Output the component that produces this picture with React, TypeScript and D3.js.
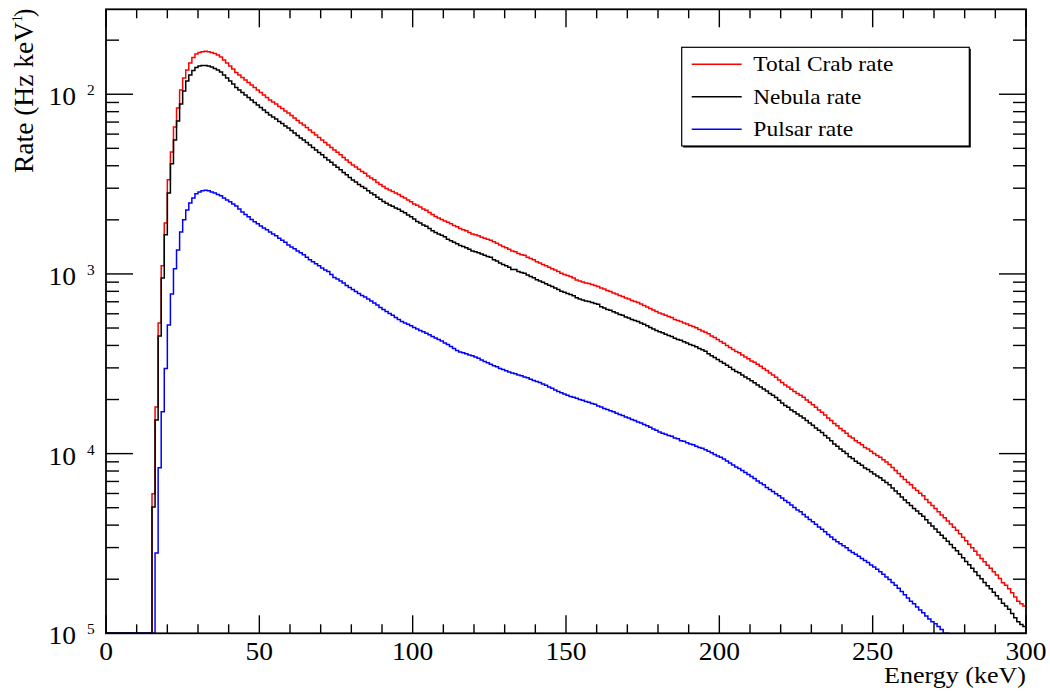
import React from 'react';
import * as d3 from 'd3';

// 1 keV bins, 0-300 keV
const histMin = 0;
const histMax = 300;
const binWidth = 1;

// Hz/keV per bin (bins below threshold are empty)
const totalRate = [
  0, 0, 0, 0, 0, 0, 0, 0, 0, 0,
  0, 0, 0, 0, 0, 5.97e-5, 1.82e-4, 5.34e-4, 1.11e-3, 1.92e-3,
  3.34e-3, 4.77e-3, 6.58e-3, 8.39e-3, 1.057e-2, 1.232e-2, 1.366e-2, 1.494e-2, 1.602e-2, 1.676e-2,
  1.708e-2, 1.726e-2, 1.735e-2, 1.726e-2, 1.708e-2, 1.687e-2, 1.655e-2, 1.613e-2, 1.552e-2, 1.494e-2,
  1.437e-2, 1.383e-2, 1.322e-2, 1.280e-2, 1.240e-2, 1.201e-2, 1.163e-2, 1.126e-2, 1.091e-2, 1.057e-2,
  1.023e-2, 9.91e-3, 9.60e-3, 9.30e-3, 9.06e-3, 8.83e-3, 8.55e-3, 8.34e-3, 8.07e-3, 7.87e-3,
  7.62e-3, 7.38e-3, 7.15e-3, 6.92e-3, 6.75e-3, 6.53e-3, 6.33e-3, 6.13e-3, 5.94e-3, 5.75e-3,
  5.57e-3, 5.39e-3, 5.22e-3, 5.06e-3, 4.90e-3, 4.75e-3, 4.60e-3, 4.45e-3, 4.31e-3, 4.17e-3,
  4.04e-3, 3.94e-3, 3.82e-3, 3.72e-3, 3.63e-3, 3.51e-3, 3.42e-3, 3.34e-3, 3.23e-3, 3.15e-3,
  3.07e-3, 2.99e-3, 2.93e-3, 2.88e-3, 2.82e-3, 2.77e-3, 2.70e-3, 2.65e-3, 2.58e-3, 2.52e-3,
  2.45e-3, 2.41e-3, 2.36e-3, 2.30e-3, 2.26e-3, 2.20e-3, 2.14e-3, 2.09e-3, 2.05e-3, 2.01e-3,
  1.97e-3, 1.94e-3, 1.90e-3, 1.86e-3, 1.83e-3, 1.79e-3, 1.76e-3, 1.74e-3, 1.70e-3, 1.67e-3,
  1.65e-3, 1.63e-3, 1.60e-3, 1.58e-3, 1.56e-3, 1.54e-3, 1.51e-3, 1.48e-3, 1.45e-3, 1.42e-3,
  1.40e-3, 1.37e-3, 1.34e-3, 1.33e-3, 1.30e-3, 1.28e-3, 1.27e-3, 1.24e-3, 1.22e-3, 1.20e-3,
  1.17e-3, 1.15e-3, 1.13e-3, 1.11e-3, 1.09e-3, 1.07e-3, 1.05e-3, 1.03e-3, 1.01e-3, 9.94e-4,
  9.81e-4, 9.68e-4, 9.50e-4, 9.26e-4, 9.14e-4, 9.03e-4, 8.91e-4, 8.85e-4, 8.74e-4, 8.63e-4,
  8.52e-4, 8.36e-4, 8.25e-4, 8.09e-4, 7.99e-4, 7.84e-4, 7.74e-4, 7.59e-4, 7.50e-4, 7.35e-4,
  7.26e-4, 7.12e-4, 7.03e-4, 6.94e-4, 6.81e-4, 6.68e-4, 6.55e-4, 6.43e-4, 6.30e-4, 6.18e-4,
  6.07e-4, 5.99e-4, 5.88e-4, 5.80e-4, 5.73e-4, 5.58e-4, 5.51e-4, 5.44e-4, 5.34e-4, 5.27e-4,
  5.17e-4, 5.10e-4, 5.01e-4, 4.91e-4, 4.82e-4, 4.73e-4, 4.64e-4, 4.52e-4, 4.43e-4, 4.32e-4,
  4.21e-4, 4.11e-4, 4.00e-4, 3.90e-4, 3.80e-4, 3.70e-4, 3.64e-4, 3.54e-4, 3.45e-4, 3.37e-4,
  3.28e-4, 3.22e-4, 3.14e-4, 3.06e-4, 2.98e-4, 2.90e-4, 2.81e-4, 2.74e-4, 2.66e-4, 2.57e-4,
  2.49e-4, 2.41e-4, 2.35e-4, 2.28e-4, 2.22e-4, 2.16e-4, 2.11e-4, 2.06e-4, 1.99e-4, 1.93e-4,
  1.87e-4, 1.81e-4, 1.75e-4, 1.70e-4, 1.64e-4, 1.58e-4, 1.53e-4, 1.47e-4, 1.43e-4, 1.38e-4,
  1.34e-4, 1.30e-4, 1.25e-4, 1.22e-4, 1.18e-4, 1.15e-4, 1.12e-4, 1.08e-4, 1.06e-4, 1.03e-4,
  1.00e-4, 9.77e-5, 9.53e-5, 9.23e-5, 8.99e-5, 8.71e-5, 8.38e-5, 8.06e-5, 7.76e-5, 7.47e-5,
  7.18e-5, 6.92e-5, 6.70e-5, 6.44e-5, 6.24e-5, 6.01e-5, 5.82e-5, 5.56e-5, 5.35e-5, 5.15e-5,
  4.95e-5, 4.74e-5, 4.56e-5, 4.39e-5, 4.22e-5, 4.06e-5, 3.89e-5, 3.74e-5, 3.58e-5, 3.42e-5,
  3.27e-5, 3.13e-5, 2.99e-5, 2.86e-5, 2.73e-5, 2.61e-5, 2.50e-5, 2.39e-5, 2.30e-5, 2.20e-5,
  2.11e-5, 2.02e-5, 1.91e-5, 1.85e-5, 1.77e-5, 1.68e-5, 1.59e-5, 1.51e-5, 1.46e-5, 1.42e-5,
];

const nebulaRate = [
  0, 0, 0, 0, 0, 0, 0, 0, 0, 0,
  0, 0, 0, 0, 0, 5.05e-5, 1.54e-4, 4.52e-4, 9.50e-4, 1.65e-3,
  2.82e-3, 4.10e-3, 5.57e-3, 7.10e-3, 8.83e-3, 1.043e-2, 1.186e-2, 1.280e-2, 1.356e-2, 1.409e-2,
  1.437e-2, 1.447e-2, 1.447e-2, 1.437e-2, 1.419e-2, 1.392e-2, 1.366e-2, 1.331e-2, 1.281e-2, 1.233e-2,
  1.186e-2, 1.141e-2, 1.091e-2, 1.056e-2, 1.023e-2, 9.91e-3, 9.60e-3, 9.30e-3, 9.00e-3, 8.72e-3,
  8.44e-3, 8.18e-3, 7.92e-3, 7.67e-3, 7.48e-3, 7.29e-3, 7.06e-3, 6.88e-3, 6.66e-3, 6.49e-3,
  6.29e-3, 6.09e-3, 5.90e-3, 5.71e-3, 5.57e-3, 5.39e-3, 5.22e-3, 5.06e-3, 4.90e-3, 4.74e-3,
  4.60e-3, 4.45e-3, 4.31e-3, 4.18e-3, 4.04e-3, 3.92e-3, 3.80e-3, 3.67e-3, 3.56e-3, 3.44e-3,
  3.33e-3, 3.25e-3, 3.15e-3, 3.07e-3, 3.00e-3, 2.90e-3, 2.82e-3, 2.76e-3, 2.67e-3, 2.60e-3,
  2.53e-3, 2.47e-3, 2.42e-3, 2.38e-3, 2.33e-3, 2.29e-3, 2.23e-3, 2.19e-3, 2.13e-3, 2.08e-3,
  2.02e-3, 1.96e-3, 1.92e-3, 1.87e-3, 1.84e-3, 1.79e-3, 1.74e-3, 1.70e-3, 1.67e-3, 1.64e-3,
  1.61e-3, 1.56e-3, 1.53e-3, 1.50e-3, 1.47e-3, 1.44e-3, 1.42e-3, 1.40e-3, 1.37e-3, 1.34e-3,
  1.33e-3, 1.31e-3, 1.29e-3, 1.27e-3, 1.25e-3, 1.24e-3, 1.20e-3, 1.18e-3, 1.15e-3, 1.13e-3,
  1.11e-3, 1.09e-3, 1.06e-3, 1.06e-3, 1.03e-3, 1.02e-3, 1.01e-3, 9.85e-4, 9.69e-4, 9.53e-4,
  9.29e-4, 9.13e-4, 8.98e-4, 8.82e-4, 8.66e-4, 8.50e-4, 8.34e-4, 8.18e-4, 8.02e-4, 7.90e-4,
  7.79e-4, 7.69e-4, 7.55e-4, 7.36e-4, 7.26e-4, 7.17e-4, 7.08e-4, 7.03e-4, 6.94e-4, 6.85e-4,
  6.77e-4, 6.56e-4, 6.47e-4, 6.34e-4, 6.27e-4, 6.15e-4, 6.07e-4, 5.95e-4, 5.88e-4, 5.76e-4,
  5.69e-4, 5.58e-4, 5.51e-4, 5.44e-4, 5.34e-4, 5.24e-4, 5.14e-4, 5.04e-4, 4.94e-4, 4.85e-4,
  4.76e-4, 4.70e-4, 4.61e-4, 4.55e-4, 4.49e-4, 4.38e-4, 4.32e-4, 4.27e-4, 4.19e-4, 4.13e-4,
  4.05e-4, 4.00e-4, 3.93e-4, 3.85e-4, 3.78e-4, 3.71e-4, 3.59e-4, 3.50e-4, 3.43e-4, 3.34e-4,
  3.26e-4, 3.18e-4, 3.10e-4, 3.02e-4, 2.94e-4, 2.86e-4, 2.82e-4, 2.74e-4, 2.67e-4, 2.61e-4,
  2.54e-4, 2.48e-4, 2.41e-4, 2.35e-4, 2.29e-4, 2.23e-4, 2.16e-4, 2.11e-4, 2.05e-4, 1.98e-4,
  1.91e-4, 1.85e-4, 1.81e-4, 1.75e-4, 1.71e-4, 1.66e-4, 1.62e-4, 1.58e-4, 1.53e-4, 1.48e-4,
  1.44e-4, 1.39e-4, 1.35e-4, 1.31e-4, 1.26e-4, 1.22e-4, 1.18e-4, 1.13e-4, 1.10e-4, 1.06e-4,
  1.03e-4, 1.00e-4, 9.61e-5, 9.38e-5, 9.07e-5, 8.84e-5, 8.61e-5, 8.31e-5, 8.15e-5, 7.92e-5,
  7.69e-5, 7.51e-5, 7.33e-5, 7.10e-5, 6.91e-5, 6.70e-5, 6.44e-5, 6.20e-5, 5.97e-5, 5.74e-5,
  5.52e-5, 5.32e-5, 5.15e-5, 4.95e-5, 4.80e-5, 4.62e-5, 4.48e-5, 4.28e-5, 4.11e-5, 3.96e-5,
  3.81e-5, 3.65e-5, 3.51e-5, 3.38e-5, 3.25e-5, 3.12e-5, 2.99e-5, 2.88e-5, 2.75e-5, 2.63e-5,
  2.51e-5, 2.41e-5, 2.30e-5, 2.20e-5, 2.10e-5, 2.01e-5, 1.92e-5, 1.84e-5, 1.77e-5, 1.69e-5,
  1.62e-5, 1.55e-5, 1.47e-5, 1.42e-5, 1.36e-5, 1.29e-5, 1.22e-5, 1.16e-5, 1.12e-5, 1.09e-5,
];

// pulsar drops under the plot minimum after ~273 keV
const pulsarRate = [
  0, 0, 0, 0, 0, 0, 0, 0, 0, 0,
  0, 0, 0, 0, 0, 0, 2.80e-5, 8.33e-5, 1.71e-4, 2.98e-4,
  5.20e-4, 7.74e-4, 1.07e-3, 1.36e-3, 1.71e-3, 2.00e-3, 2.27e-3, 2.48e-3, 2.65e-3, 2.79e-3,
  2.86e-3, 2.90e-3, 2.92e-3, 2.90e-3, 2.86e-3, 2.82e-3, 2.77e-3, 2.72e-3, 2.65e-3, 2.58e-3,
  2.52e-3, 2.45e-3, 2.39e-3, 2.30e-3, 2.21e-3, 2.14e-3, 2.08e-3, 2.01e-3, 1.95e-3, 1.90e-3,
  1.85e-3, 1.80e-3, 1.76e-3, 1.71e-3, 1.67e-3, 1.63e-3, 1.58e-3, 1.54e-3, 1.50e-3, 1.45e-3,
  1.41e-3, 1.38e-3, 1.34e-3, 1.31e-3, 1.28e-3, 1.24e-3, 1.20e-3, 1.17e-3, 1.14e-3, 1.11e-3,
  1.08e-3, 1.05e-3, 1.03e-3, 9.94e-4, 9.56e-4, 9.38e-4, 9.14e-4, 8.91e-4, 8.63e-4, 8.41e-4,
  8.20e-4, 7.99e-4, 7.79e-4, 7.59e-4, 7.45e-4, 7.26e-4, 7.07e-4, 6.90e-4, 6.72e-4, 6.51e-4,
  6.34e-4, 6.18e-4, 6.03e-4, 5.88e-4, 5.73e-4, 5.58e-4, 5.44e-4, 5.34e-4, 5.24e-4, 5.14e-4,
  5.04e-4, 4.94e-4, 4.85e-4, 4.76e-4, 4.67e-4, 4.58e-4, 4.49e-4, 4.40e-4, 4.32e-4, 4.24e-4,
  4.13e-4, 4.05e-4, 3.95e-4, 3.85e-4, 3.75e-4, 3.68e-4, 3.64e-4, 3.59e-4, 3.54e-4, 3.50e-4,
  3.45e-4, 3.39e-4, 3.32e-4, 3.26e-4, 3.20e-4, 3.14e-4, 3.08e-4, 3.04e-4, 2.98e-4, 2.94e-4,
  2.89e-4, 2.85e-4, 2.81e-4, 2.78e-4, 2.74e-4, 2.71e-4, 2.67e-4, 2.64e-4, 2.59e-4, 2.55e-4,
  2.52e-4, 2.49e-4, 2.44e-4, 2.40e-4, 2.35e-4, 2.31e-4, 2.26e-4, 2.22e-4, 2.18e-4, 2.15e-4,
  2.11e-4, 2.08e-4, 2.06e-4, 2.03e-4, 2.00e-4, 1.98e-4, 1.95e-4, 1.93e-4, 1.90e-4, 1.88e-4,
  1.84e-4, 1.82e-4, 1.78e-4, 1.76e-4, 1.73e-4, 1.71e-4, 1.68e-4, 1.65e-4, 1.63e-4, 1.60e-4,
  1.58e-4, 1.55e-4, 1.53e-4, 1.50e-4, 1.48e-4, 1.45e-4, 1.43e-4, 1.40e-4, 1.37e-4, 1.35e-4,
  1.32e-4, 1.30e-4, 1.28e-4, 1.26e-4, 1.25e-4, 1.22e-4, 1.21e-4, 1.18e-4, 1.17e-4, 1.15e-4,
  1.13e-4, 1.12e-4, 1.10e-4, 1.08e-4, 1.07e-4, 1.05e-4, 1.03e-4, 1.01e-4, 9.90e-5, 9.71e-5,
  9.53e-5, 9.34e-5, 9.11e-5, 8.88e-5, 8.65e-5, 8.43e-5, 8.27e-5, 8.06e-5, 7.86e-5, 7.66e-5,
  7.47e-5, 7.28e-5, 7.05e-5, 6.87e-5, 6.70e-5, 6.48e-5, 6.32e-5, 6.16e-5, 5.97e-5, 5.82e-5,
  5.67e-5, 5.49e-5, 5.35e-5, 5.18e-5, 5.02e-5, 4.86e-5, 4.74e-5, 4.59e-5, 4.44e-5, 4.30e-5,
  4.17e-5, 4.04e-5, 3.91e-5, 3.79e-5, 3.67e-5, 3.55e-5, 3.44e-5, 3.33e-5, 3.23e-5, 3.15e-5,
  3.07e-5, 2.99e-5, 2.89e-5, 2.82e-5, 2.75e-5, 2.68e-5, 2.61e-5, 2.54e-5, 2.48e-5, 2.40e-5,
  2.34e-5, 2.27e-5, 2.20e-5, 2.13e-5, 2.06e-5, 1.99e-5, 1.92e-5, 1.85e-5, 1.78e-5, 1.71e-5,
  1.64e-5, 1.57e-5, 1.51e-5, 1.46e-5, 1.40e-5, 1.35e-5, 1.30e-5, 1.25e-5, 1.20e-5, 1.16e-5,
  1.13e-5, 1.09e-5, 1.05e-5, 9.7e-6, 9.5e-6,
];

const seriesLabels = ['Total Crab rate', 'Nebula rate', 'Pulsar rate'];
const seriesColors = ['#ff0000', '#000000', '#0000ff'];

const xMajorTicks = [0, 50, 100, 150, 200, 250, 300];
const yDecades = [1e-2, 1e-3, 1e-4, 1e-5];
// exponents as they appear on the original plot (minus signs not rendered)
const yExponentLabels = ['2', '3', '4', '5'];

const yMin = 1e-5;
const yMax = 0.0297;

const W = 1050;
const H = 694;
const frame = {left: 106, right: 1026, top: 9.3, bottom: 633.3};
const font = '"Liberation Serif", "Times New Roman", serif';
const sx = 1.1; // the original image is slightly stretched horizontally

const x = d3.scaleLinear().domain([histMin, histMax]).range([frame.left, frame.right]);
const y = d3.scaleLog().domain([yMin, yMax]).range([frame.bottom, frame.top]);

function histPath(values: number[]) {
    let d = '';
    values.forEach((v, i) => {
        const vy = y(Math.min(Math.max(v, yMin), yMax));
        const x0 = x(histMin + i * binWidth);
        const x1 = x(histMin + (i + 1) * binWidth);
        d += (i === 0 ? `M${x0},${vy}` : `V${vy}`) + `H${x1}`;
    });
    return d;
}

function App() {
    const series = [totalRate, nebulaRate, pulsarRate];

    const xMinor = d3.range(histMin, histMax + 1, 10).filter((t) => t % 50 !== 0);
    const yMinor: number[] = [];
    yDecades.forEach((dec) => {
        for (let m = 2; m <= 9; m++) {
            const v = dec * m;
            if (v > yMin && v < yMax) yMinor.push(v);
        }
    });

    const legend = {left: 681.7, top: 47.3, right: 969.3, bottom: 146};
    const legendRows = [64.3, 96.7, 129.3];
    const legendTextLen = [140, 108, 100];

    return (
        <svg width={W} height={H} style={{position: 'absolute', left: 0, top: 0, background: '#fff'}}>
            <defs>
                <clipPath id="frame-clip">
                    <rect x={frame.left} y={frame.top - 1} width={frame.right - frame.left} height={frame.bottom - frame.top + 1}/>
                </clipPath>
            </defs>

            {/* histograms */}
            <g clipPath="url(#frame-clip)" fill="none" strokeWidth={1.5}>
                {series.map((vals, i) => (
                    <path key={i} d={histPath(vals)} stroke={seriesColors[i]}/>
                ))}
            </g>

            {/* frame */}
            <rect x={frame.left} y={frame.top} width={frame.right - frame.left} height={frame.bottom - frame.top}
                  fill="none" stroke="#000" strokeWidth={1.8}/>

            {/* ticks on all four sides */}
            <g stroke="#000" strokeWidth={1.4}>
                {xMajorTicks.map((t) => (
                    <g key={'xM' + t}>
                        <line x1={x(t)} x2={x(t)} y1={frame.bottom} y2={frame.bottom - 18}/>
                        <line x1={x(t)} x2={x(t)} y1={frame.top} y2={frame.top + 18}/>
                    </g>
                ))}
                {xMinor.map((t) => (
                    <g key={'xm' + t}>
                        <line x1={x(t)} x2={x(t)} y1={frame.bottom} y2={frame.bottom - 9}/>
                        <line x1={x(t)} x2={x(t)} y1={frame.top} y2={frame.top + 9}/>
                    </g>
                ))}
                {yDecades.map((t) => (
                    <g key={'yM' + t}>
                        <line x1={frame.left} x2={frame.left + 27} y1={y(t)} y2={y(t)}/>
                        <line x1={frame.right} x2={frame.right - 27} y1={y(t)} y2={y(t)}/>
                    </g>
                ))}
                {yMinor.map((t) => (
                    <g key={'ym' + t}>
                        <line x1={frame.left} x2={frame.left + 13} y1={y(t)} y2={y(t)}/>
                        <line x1={frame.right} x2={frame.right - 13} y1={y(t)} y2={y(t)}/>
                    </g>
                ))}
            </g>

            {/* x tick labels */}
            <g fontFamily={font} fontSize={25} fill="#000" textAnchor="middle">
                {xMajorTicks.map((t) => (
                    <text key={t} transform={`translate(${x(t)},660) scale(${sx},1)`}>{t}</text>
                ))}
            </g>

            {/* y tick labels */}
            <g fontFamily={font} fill="#000">
                {yDecades.map((t, i) => (
                    <g key={t}>
                        <text transform={`translate(76,${y(t) + 11}) scale(${sx},1)`} fontSize={25} textAnchor="end">10</text>
                        <text transform={`translate(87,${y(t) + 1}) scale(${sx},1)`} fontSize={14}>{yExponentLabels[i]}</text>
                    </g>
                ))}
            </g>

            {/* axis titles */}
            <text x={884} y={683} fontFamily={font} fontSize={24} textLength={142} lengthAdjust="spacingAndGlyphs">Energy (keV)</text>
            <g transform={`translate(32.5,173) scale(${sx},1) rotate(-90)`} fontFamily={font} fill="#000">
                <text x={0} y={0} fontSize={25} textLength={151} lengthAdjust="spacingAndGlyphs">Rate (Hz keV</text>
                <text x={151} y={-10} fontSize={13}>1</text>
                <text x={156} y={0} fontSize={25}>)</text>
            </g>

            {/* legend */}
            <rect x={legend.left + 1.5} y={legend.top + 1.5} width={legend.right - legend.left} height={legend.bottom - legend.top}
                  fill="#000"/>
            <rect x={legend.left} y={legend.top} width={legend.right - legend.left} height={legend.bottom - legend.top}
                  fill="#fff" stroke="#000" strokeWidth={1.2}/>
            {seriesLabels.map((label, i) => (
                <g key={label}>
                    <line x1={691.7} x2={741.7} y1={legendRows[i]} y2={legendRows[i]} stroke={seriesColors[i]} strokeWidth={1.5}/>
                    <text x={753.3} y={legendRows[i] + 7} fontFamily={font} fontSize={22}
                          textLength={legendTextLen[i]} lengthAdjust="spacingAndGlyphs">{label}</text>
                </g>
            ))}
        </svg>
    );
}

export default App;
